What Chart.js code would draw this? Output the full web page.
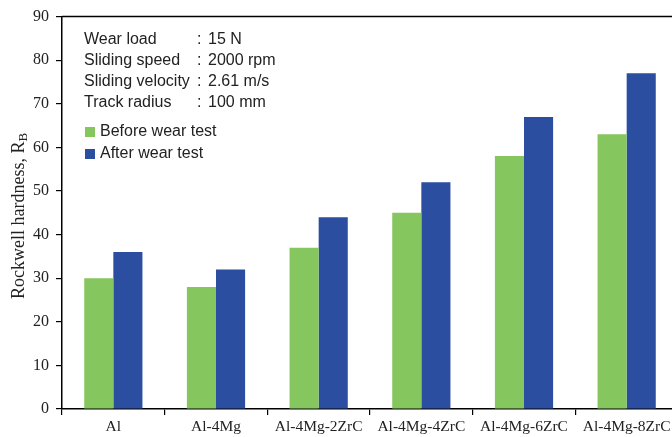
<!DOCTYPE html>
<html>
<head>
<meta charset="utf-8">
<script src="https://cdn.jsdelivr.net/npm/chart.js@4.4.0/dist/chart.umd.min.js"></script>
<style>
  html, body { margin: 0; padding: 0; background: #fff; overflow: hidden; }
  #wrap { width: 678px; height: 437px; }
</style>
</head>
<body>
<div id="wrap"><canvas id="chart"></canvas></div>
<script>
const categories = ["Al", "Al-4Mg", "Al-4Mg-2ZrC", "Al-4Mg-4ZrC", "Al-4Mg-6ZrC", "Al-4Mg-8ZrC"];
const beforeWear = [30, 28, 37, 45, 58, 63];
const afterWear = [36, 32, 44, 52, 67, 77];
const yTicks = [0, 10, 20, 30, 40, 50, 60, 70, 80, 90];
const testConditions = [
    ["Wear load", "15 N"],
    ["Sliding speed", "2000 rpm"],
    ["Sliding velocity", "2.61 m/s"],
    ["Track radius", "100 mm"]
];

const green = "#86c65f";
const blue = "#2b4ea1";
const serif = "'Liberation Serif', 'Times New Roman', serif";
const sans = "'Liberation Sans', Arial, sans-serif";

// top frame line, info box, legend and the y title with its subscript
const decorations = {
    id: "decorations",
    afterDraw(chart) {
        const { ctx, chartArea } = chart;
        ctx.save();
        ctx.strokeStyle = "#000";
        ctx.lineWidth = 1.5;
        ctx.beginPath();
        ctx.moveTo(chartArea.left, chartArea.top);
        ctx.lineTo(chartArea.right, chartArea.top);
        ctx.stroke();

        ctx.fillStyle = "#222";
        ctx.font = "16px " + sans;
        ctx.textBaseline = "middle";
        testConditions.forEach(([name, value], i) => {
            const y = 40 + i * 21;
            ctx.fillText(name, 84, y);
            ctx.fillText(":", 197, y);
            ctx.fillText(value, 208, y);
        });

        chart.data.datasets.forEach((ds, i) => {
            const y = 132 + i * 22;
            ctx.fillStyle = ds.backgroundColor;
            ctx.fillRect(85, y - 5, 10, 10);
            ctx.fillStyle = "#222";
            ctx.fillText(ds.label, 100, y);
        });

        ctx.translate(19, 216);
        ctx.rotate(-Math.PI / 2);
        ctx.fillStyle = "#222";
        const main = "Rockwell hardness, R";
        ctx.font = "18px " + serif;
        const w1 = ctx.measureText(main).width;
        ctx.font = "13px " + serif;
        const w2 = ctx.measureText("B").width;
        const start = -(w1 + w2) / 2;
        ctx.font = "18px " + serif;
        ctx.textAlign = "left";
        ctx.fillText(main, start, 0);
        ctx.font = "13px " + serif;
        ctx.fillText("B", start + w1, 5);
        ctx.restore();
    }
};

new Chart(document.getElementById("chart"), {
    type: "bar",
    data: {
        labels: categories,
        datasets: [
            { label: "Before wear test", data: beforeWear, backgroundColor: green },
            { label: "After wear test", data: afterWear, backgroundColor: blue }
        ]
    },
    options: {
        responsive: true,
        maintainAspectRatio: false,
        animation: false,
        layout: { padding: { top: 15, right: 0, left: 0, bottom: 0 } },
        datasets: { bar: { barPercentage: 1, categoryPercentage: 0.567 } },
        plugins: { legend: { display: false }, tooltip: { enabled: false } },
        scales: {
            x: {
                grid: { offset: true, drawOnChartArea: false, drawTicks: true, tickLength: 6, color: "#000", lineWidth: 1.2 },
                border: { display: true, color: "#000", width: 1.5 },
                ticks: { color: "#222", font: { family: serif, size: 15.5 }, padding: 3, maxRotation: 0, autoSkip: false },
                afterFit(scale) { scale.height = 28; }
            },
            y: {
                min: 0,
                max: 90,
                afterBuildTicks(scale) { scale.ticks = yTicks.map(v => ({ value: v })); },
                grid: { drawOnChartArea: false, drawTicks: true, tickLength: 6, color: "#000", lineWidth: 1.2 },
                border: { display: true, color: "#000", width: 1.5 },
                ticks: { color: "#222", font: { family: serif, size: 16 }, padding: 7 },
                afterFit(scale) { scale.width = 62; }
            }
        }
    },
    plugins: [decorations]
});
</script>
</body>
</html>
